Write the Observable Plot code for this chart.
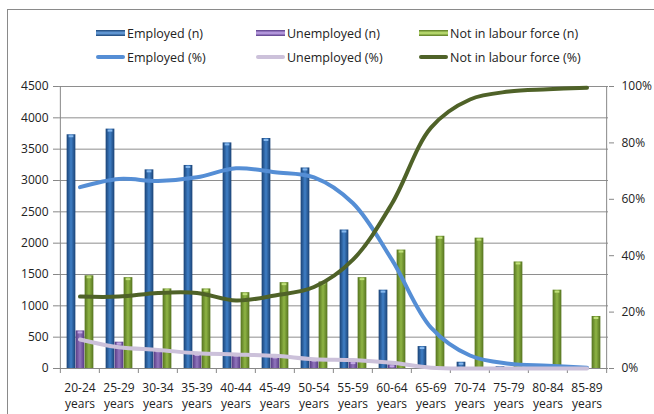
<!DOCTYPE html>
<html><head><meta charset="utf-8">
<script src="https://cdn.jsdelivr.net/npm/d3@7"></script>
<script src="https://cdn.jsdelivr.net/npm/@observablehq/plot@0.6"></script>
<style>
body{margin:0;overflow:hidden;background:#fff;font-family:"Open Sans",sans-serif;}
#frame{position:absolute;left:7px;top:9px;width:720px;height:500px;border:1.5px solid #8a8a8a;pointer-events:none}
#legend{position:relative;height:76px;font-size:12.5px;color:#222}
.item{position:absolute;display:flex;align-items:center;white-space:nowrap;height:16px}
.sw{width:29px;margin-right:2px}
</style></head><body>
<svg width="0" height="0" style="position:absolute"><defs>
<linearGradient id="gEmp" x1="0" x2="1" y1="0" y2="0">
 <stop offset="0" stop-color="#1a4275"/><stop offset="0.5" stop-color="#3f7fc6"/><stop offset="1" stop-color="#1a4275"/>
</linearGradient>
<linearGradient id="gUnemp" x1="0" x2="1" y1="0" y2="0">
 <stop offset="0" stop-color="#573b85"/><stop offset="0.5" stop-color="#9175bd"/><stop offset="1" stop-color="#573b85"/>
</linearGradient>
<linearGradient id="gNilf" x1="0" x2="1" y1="0" y2="0">
 <stop offset="0" stop-color="#55731f"/><stop offset="0.5" stop-color="#8fb545"/><stop offset="1" stop-color="#55731f"/>
</linearGradient>
</defs></svg>
<div id="frame"></div>
<div id="legend"></div>
<div id="chart"></div>
<script>
const categories = ["20-24 years","25-29 years","30-34 years","35-39 years","40-44 years","45-49 years","50-54 years","55-59 years","60-64 years","65-69 years","70-74 years","75-79 years","80-84 years","85-89 years"];
const employedN   = [3730, 3820, 3170, 3240, 3600, 3670, 3200, 2210, 1250, 350, 100, 30, 12, 3];
const unemployedN = [600, 420, 300, 240, 230, 200, 150, 110, 60, 10, 0, 0, 0, 0];
const nilfN       = [1480, 1450, 1270, 1270, 1210, 1370, 1380, 1450, 1890, 2110, 2080, 1700, 1250, 830];
const employedPct   = [64.3, 67.2, 66.5, 67.8, 71.0, 69.6, 67.8, 58.6, 38.5, 14.5, 4.6, 1.7, 1.0, 0.3];
const unemployedPct = [10.3, 7.5, 6.6, 5.4, 5.0, 4.5, 3.3, 3.0, 2.0, 0.3, 0, 0, 0, 0];
const nilfPct       = [25.5, 25.5, 26.8, 26.8, 24.1, 25.9, 28.9, 38.6, 58.5, 85.4, 95.4, 98.2, 99.0, 99.6];
const leftTicks = [0,500,1000,1500,2000,2500,3000,3500,4000,4500];
const pctTicks = [0,20,40,60,80,100];
const barSeries = ["Employed (n)","Unemployed (n)","Not in labour force (n)"];
const lineSeries = ["Employed (%)","Unemployed (%)","Not in labour force (%)"];

const yMax = 4500;
const toY = p => p / 100 * yMax;
const rows = categories.map((c,i) => ({cat:c, emp:employedN[i], unemp:unemployedN[i], nilf:nilfN[i],
  empPct:employedPct[i], unempPct:unemployedPct[i], nilfPct:nilfPct[i]}));

// legend
const barStyles = [
  "linear-gradient(to bottom,#1c4678,#6ea6e4 50%,#1c4678)",
  "linear-gradient(to bottom,#5a3d88,#c4a8ec 50%,#5a3d88)",
  "linear-gradient(to bottom,#5a7a22,#c6e87a 50%,#5a7a22)"];
const lineColors = ["#558ed5","#ccc1da","#4f6228"];
const capColors = ["#86b8ee","#c3a9e6","#c0e07a"];
const legX = [96, 256, 419];
const leg = document.getElementById("legend");
barSeries.forEach((s,i)=>{
  const d = document.createElement("div"); d.className="item";
  d.style.left = legX[i]+"px"; d.style.top = "25px";
  d.innerHTML = `<div class="sw" style="height:6px;background:${barStyles[i]}"></div><span>${s}</span>`;
  leg.appendChild(d);
});
lineSeries.forEach((s,i)=>{
  const d = document.createElement("div"); d.className="item";
  d.style.left = legX[i]+"px"; d.style.top = "49px";
  d.innerHTML = `<div class="sw" style="height:4px;border-radius:2px;background:${lineColors[i]}"></div><span>${s}</span>`;
  leg.appendChild(d);
});

const W = 654, H = 338, ML = 58, MR = 46, MT = 10, MB = 46;
const bw = (W - ML - MR) / categories.length;
const barW = 9;
const ins = (bw - barW) / 2;
const last = categories[categories.length-1];
const axisColor = "#878787";
const keys = ["emp","unemp","nilf"];
const grads = ["url(#gEmp)","url(#gUnemp)","url(#gNilf)"];
const offs = [-barW + 0.5, 0.5, barW + 0.5];

const barMarks = keys.flatMap((k,i) => [
  Plot.barY(rows, {x: "cat", y: k, fill: grads[i], insetLeft: ins, insetRight: ins, dx: offs[i]}),
  Plot.tickY(rows.filter(r => r[k] > 40), {x: "cat", y: k, stroke: capColors[i], strokeWidth: 2, insetLeft: ins + 2, insetRight: ins + 2, dx: offs[i], dy: 1.5})
]);

const plot = Plot.plot({
  width: W, height: H, marginTop: MT, marginBottom: MB, marginLeft: ML, marginRight: MR,
  style: {fontFamily: "Open Sans, sans-serif", fontSize: "12px", color: "#222", background: "transparent", overflow: "visible"},
  x: {type: "band", domain: categories, padding: 0},
  y: {domain: [0, yMax]},
  marks: [
    Plot.gridY(leftTicks, {stroke: "#8e8e8e", strokeOpacity: 1}),
    Plot.ruleX([categories[0]], {dx: -bw/2, stroke: axisColor}),
    Plot.ruleX([last], {dx: bw/2, stroke: axisColor}),
    Plot.ruleY([0], {stroke: axisColor}),
    Plot.ruleX(categories, {y1: 0, y2: 0, insetBottom: -5, dx: -bw/2, stroke: axisColor}),
    Plot.ruleX([last], {y1: 0, y2: 0, insetBottom: -5, dx: bw/2, stroke: axisColor}),
    ...barMarks,
    Plot.line(rows, {x: "cat", y: d => toY(d.empPct), stroke: lineColors[0], strokeWidth: 4, curve: "catmull-rom", strokeLinecap: "round"}),
    Plot.line(rows, {x: "cat", y: d => toY(d.unempPct), stroke: lineColors[1], strokeWidth: 4, curve: "catmull-rom", strokeLinecap: "round"}),
    Plot.line(rows, {x: "cat", y: d => toY(d.nilfPct), stroke: lineColors[2], strokeWidth: 4, curve: "catmull-rom", strokeLinecap: "round"}),
    Plot.axisY({ticks: leftTicks, tickSize: 5, tickPadding: 5, label: null, stroke: axisColor, tickFormat: d => String(d)}),
    Plot.axisY({anchor: "right", ticks: pctTicks.map(toY), tickSize: 5, tickPadding: 8, label: null, stroke: axisColor, tickFormat: d => Math.round(d / yMax * 100) + "%"}),
    Plot.axisX({tickSize: 0, tickPadding: 12, label: null, lineHeight: 1.33, tickFormat: d => d.replace(" ", "\n")})
  ]
});
document.getElementById("chart").appendChild(plot);
</script>
</body></html>
